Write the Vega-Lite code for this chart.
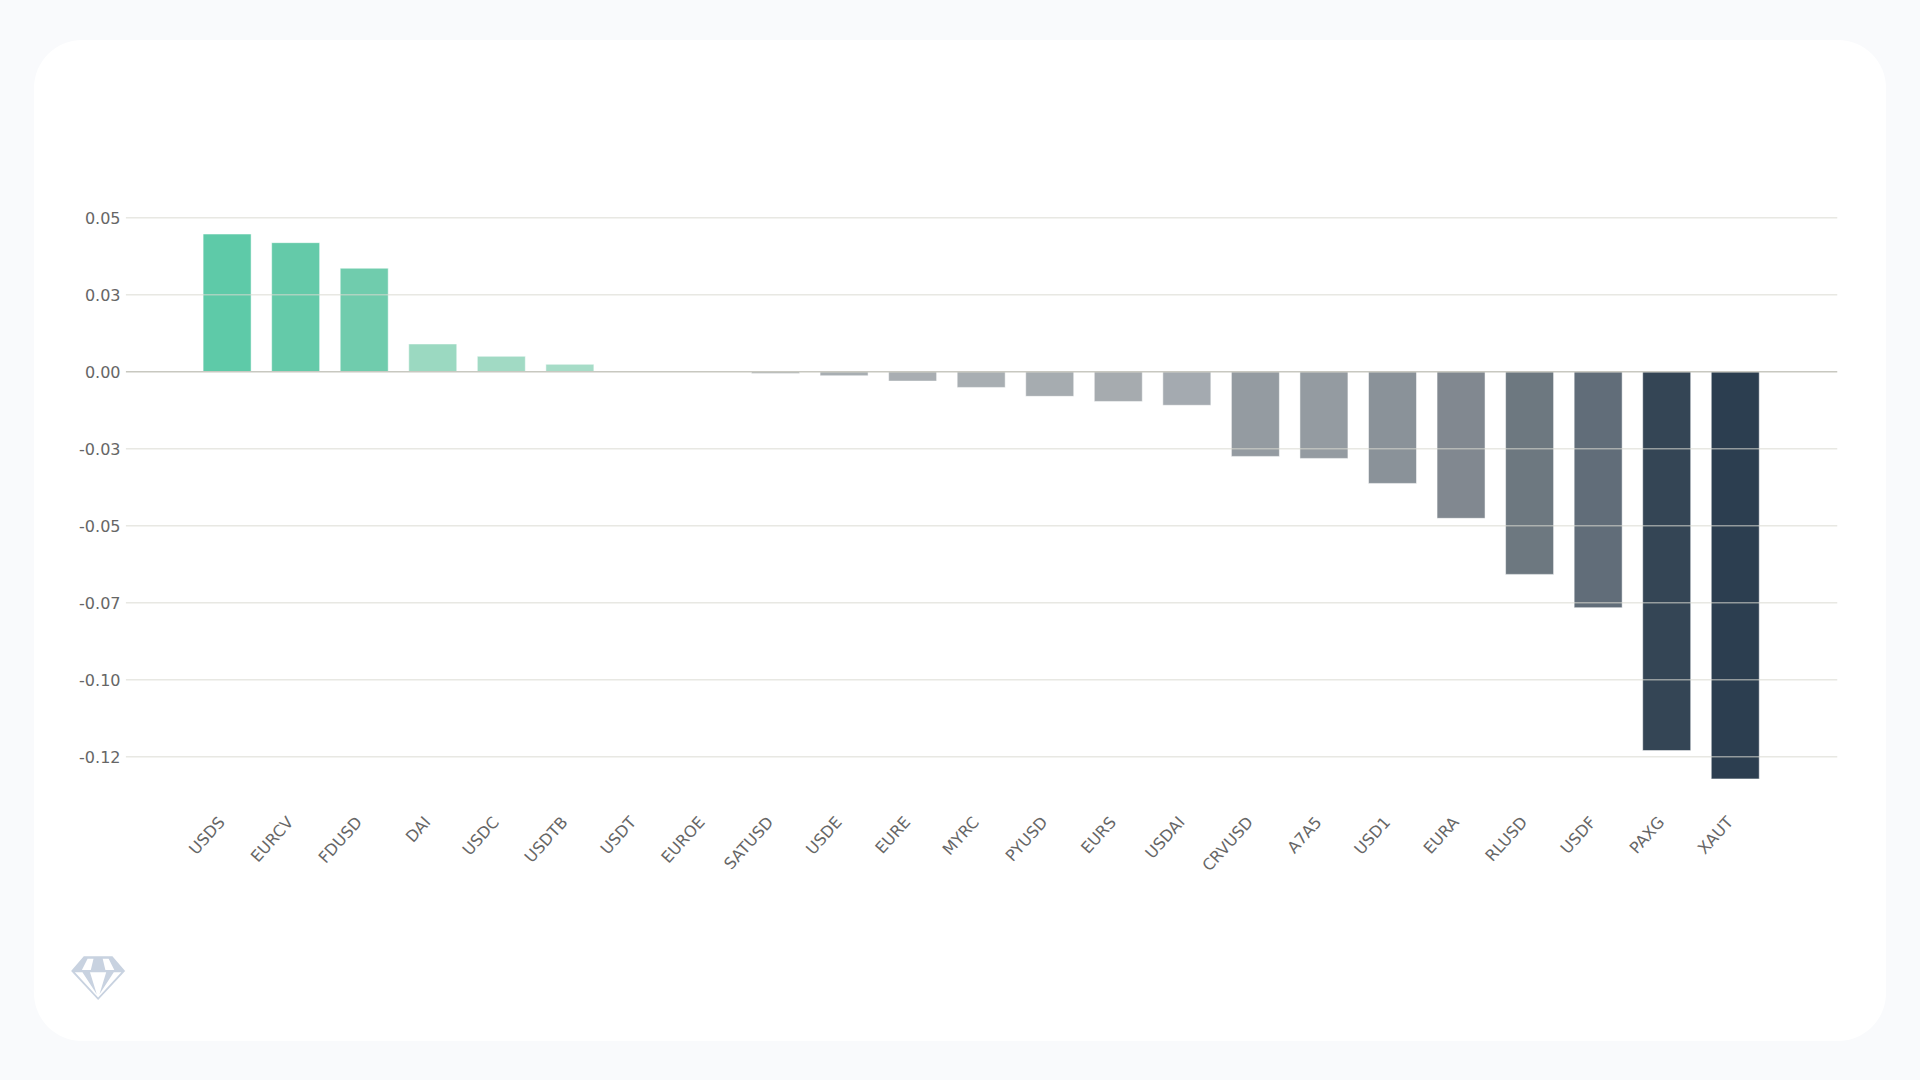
{
  "$schema": "https://vega.github.io/schema/vega-lite/v6.json",
  "width": 1852,
  "height": 1001,
  "autosize": {"type": "none"},
  "padding": {"left": 34, "top": 40, "right": 34, "bottom": 39},
  "background": "#f9fafc",
  "view": {"fill": "#ffffff", "stroke": null, "cornerRadius": 48},
  "config": {"font": "DejaVu Sans"},
  "datasets": {
    "rows": [
      {"name": "USDS", "value": 0.0447},
      {"name": "EURCV", "value": 0.0419},
      {"name": "FDUSD", "value": 0.0336},
      {"name": "DAI", "value": 0.009},
      {"name": "USDC", "value": 0.005},
      {"name": "USDTB", "value": 0.0024},
      {"name": "USDT", "value": 0},
      {"name": "EUROE", "value": 0},
      {"name": "SATUSD", "value": -0.0006},
      {"name": "USDE", "value": -0.0013},
      {"name": "EURE", "value": -0.00305},
      {"name": "MYRC", "value": -0.0051},
      {"name": "PYUSD", "value": -0.008},
      {"name": "EURS", "value": -0.00965},
      {"name": "USDAI", "value": -0.0109},
      {"name": "CRVUSD", "value": -0.0275},
      {"name": "A7A5", "value": -0.02815},
      {"name": "USD1", "value": -0.03627},
      {"name": "EURA", "value": -0.0476},
      {"name": "RLUSD", "value": -0.0658},
      {"name": "USDF", "value": -0.0766},
      {"name": "PAXG", "value": -0.123},
      {"name": "XAUT", "value": -0.1322}
    ],
    "ticks": [
      {"tick": 0.05},
      {"tick": 0.025},
      {"tick": -0.025},
      {"tick": -0.05},
      {"tick": -0.075},
      {"tick": -0.1},
      {"tick": -0.125}
    ]
  },
  "layer": [
    {
      "data": {"name": "rows"},
      "mark": {"type": "bar", "stroke": "#ffffff", "strokeOpacity": 0.5, "strokeWidth": 1},
      "encoding": {
        "x": {
          "field": "name",
          "type": "nominal",
          "sort": null,
          "title": null,
          "scale": {
            "type": "band",
            "domain": ["USDS", "EURCV", "FDUSD", "DAI", "USDC", "USDTB", "USDT", "EUROE", "SATUSD", "USDE", "EURE", "MYRC", "PYUSD", "EURS", "USDAI", "CRVUSD", "A7A5", "USD1", "EURA", "RLUSD", "USDF", "PAXG", "XAUT"],
            "paddingInner": 0.3,
            "paddingOuter": 1,
            "range": [100.56, 1793.8]
          },
          "axis": {
            "orient": "bottom",
            "offset": -233,
            "domain": false,
            "ticks": false,
            "grid": false,
            "labelAngle": -48,
            "labelFontSize": 16,
            "labelColor": "#666666",
            "labelOverlap": false,
            "labelPadding": 11,
            "labelOffset": -5
          }
        },
        "y": {
          "field": "value",
          "type": "quantitative",
          "stack": null,
          "title": null,
          "scale": {"domain": [-0.2173, 0.1077], "nice": false, "zero": false},
          "axis": {
            "orient": "left",
            "offset": -92,
            "values": [0.05, 0.025, 0, -0.025, -0.05, -0.075, -0.1, -0.125],
            "labelExpr": "datum.value === -0.125 ? '-0.12' : replace(format(datum.value, '.2f'), '−', '-')",
            "domain": false,
            "ticks": false,
            "grid": false,
            "labelFontSize": 16,
            "labelColor": "#666666",
            "labelPadding": 6,
            "labelOffset": 1
          }
        },
        "y2": {"datum": 0},
        "color": {
          "field": "name",
          "type": "nominal",
          "legend": null,
          "scale": {
            "domain": ["USDS", "EURCV", "FDUSD", "DAI", "USDC", "USDTB", "USDT", "EUROE", "SATUSD", "USDE", "EURE", "MYRC", "PYUSD", "EURS", "USDAI", "CRVUSD", "A7A5", "USD1", "EURA", "RLUSD", "USDF", "PAXG", "XAUT"],
            "range": ["#5ecaa8", "#64caa9", "#70ccad", "#9bd9c1", "#a1dac4", "#a6dcc7", "#a9aeb2", "#a9aeb2", "#a9aeb2", "#a8aeb2", "#a9aeb2", "#a8aeb2", "#a6acb0", "#a6abaf", "#a4aab0", "#949ba1", "#949ba1", "#8a9299", "#818890", "#6d7880", "#616d79", "#344555", "#2c3e50"]
          }
        }
      }
    },
    {
      "data": {"name": "ticks"},
      "mark": {"type": "rule", "color": "#d8d8d0", "opacity": 0.6, "strokeWidth": 1.5, "xOffset": -101.2, "x2Offset": 102},
      "encoding": {
        "x": {"datum": "USDS"},
        "x2": {"datum": "XAUT"},
        "y": {"field": "tick", "type": "quantitative"}
      }
    },
    {
      "data": {"values": [{"tick": 0}]},
      "mark": {"type": "rule", "color": "#c8c8c0", "strokeWidth": 1.5, "xOffset": -101.2, "x2Offset": 102},
      "encoding": {
        "x": {"datum": "USDS"},
        "x2": {"datum": "XAUT"},
        "y": {"field": "tick", "type": "quantitative"}
      }
    },
    {
      "data": {"values": [{"logo": "diamond"}]},
      "mark": {
        "type": "point",
        "filled": true,
        "opacity": 1,
        "color": "#c8d2e0",
        "size": 2916,
        "xOffset": -129,
        "shape": "M-0.53 -0.81L0.53 -0.81L1 -0.27L0 0.81L-1 -0.27ZM-0.39 -0.72L-0.6 -0.3L-0.27 -0.3L-0.17 -0.72ZM0.17 -0.72L0.27 -0.3L0.6 -0.3L0.39 -0.72ZM-0.86 -0.22L0 0.72L0.86 -0.22ZM-0.58 -0.22L-0.3 -0.22L-0.05 0.6ZM0.3 -0.22L0.58 -0.22L0.05 0.6Z"
      },
      "encoding": {
        "x": {"datum": "USDS"},
        "y": {"datum": -0.1969}
      }
    }
  ]
}
